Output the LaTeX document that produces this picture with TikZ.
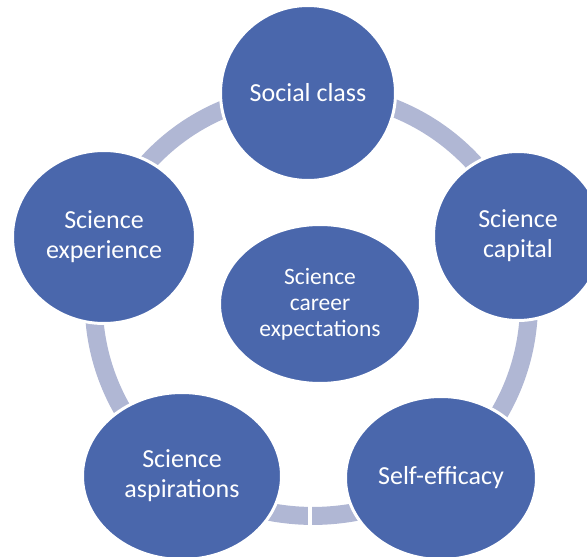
\documentclass[tikz,border=0pt]{standalone}
\usepackage{fontspec}
\setmainfont{Carlito}
\usetikzlibrary{shapes.geometric,backgrounds}
\definecolor{nodeblue}{RGB}{74,103,172}
\definecolor{ringgray}{RGB}{176,183,212}
\begin{document}
\begin{tikzpicture}[x=1pt,y=-1pt,
  bub/.style={ellipse, fill=nodeblue, draw=white, line width=3pt, inner sep=0pt, outer sep=0pt,
    text=white, align=center, font=\fontsize{26}{30}\selectfont},
  ring/.style={draw=ringgray, line width=18pt, bend left=36, looseness=0.94}]
\clip (0,0) rectangle (587,557);
\node[bub, minimum width=175pt, minimum height=175pt] (soc) at (308,93) {Social class};
\node[bub, minimum width=169pt, minimum height=169pt] (cap) at (518,236) {Science\\capital};
\node[bub, minimum width=191pt, minimum height=163pt] (self) at (441,478) {Self-efficacy};
\node[bub, minimum width=199pt, minimum height=167pt] (asp) at (182,476) {Science\\aspirations};
\node[bub, minimum width=183pt, minimum height=173pt] (exp) at (104,237) {Science\\experience};
\node[bub, minimum width=201pt, minimum height=159pt, font=\fontsize{23.5}{26}\selectfont] (car) at (320,304) {Science\\career\\expectations};
\coordinate (gap) at (310,512);
\begin{pgfonlayer}{background}
\draw[ring] (soc.center) to (cap.center);
\draw[ring] (cap.center) to (self.center);
\draw[ring, bend left=33] (self.center) to (asp.center);
\draw[ring] (asp.center) to (exp.center);
\draw[ring] (exp.center) to (soc.center);
\draw[white, line width=4pt] ([yshift=-20pt]gap) -- ([yshift=20pt]gap);
\end{pgfonlayer}
\end{tikzpicture}
\end{document}
